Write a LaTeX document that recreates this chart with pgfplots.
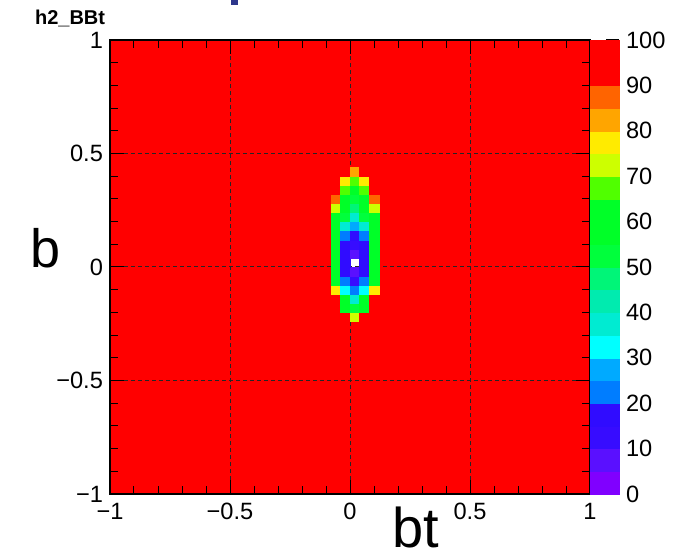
\documentclass[border=0pt]{standalone}
\usepackage{pgfplots}
\pgfplotsset{compat=1.18}
\usepackage{fontspec}
\setmainfont{Liberation Sans}

% 20-level rainbow palette: one colour for each step of 5 between 0 and 100
\pgfplotsset{
  rootpalette/.style={
    colormap={rootpal}{
      rgb255=(128,0,255) rgb255=(90,16,255) rgb255=(55,12,255) rgb255=(48,12,255)
      rgb255=(0,125,255) rgb255=(0,170,255) rgb255=(0,255,255) rgb255=(0,235,210)
      rgb255=(0,235,175) rgb255=(0,245,120) rgb255=(0,255,60) rgb255=(0,255,40)
      rgb255=(0,255,40) rgb255=(80,255,0) rgb255=(205,255,0) rgb255=(255,235,0)
      rgb255=(255,165,0) rgb255=(255,100,0) rgb255=(255,0,0) rgb255=(255,0,0)
    },
    colormap access=piecewise constant,
    point meta min=0, point meta max=100,
  },
  tickfont/.style={font=\fontsize{11.8}{14}\selectfont},
  % one filled box per bin, coloured from the bin content
  bins/.style={
    scatter, only marks, mark=square*, point meta=explicit,
    scatter/use mapped color={draw=mapped color, fill=mapped color},
  },
}

% bins of h2_BBt that differ from 100 (bin width 0.04)
\pgfplotstableread{
x     y      c
-0.06 -0.22 100
-0.02 -0.22 100
0.02  -0.22 72
0.06  -0.22 100
0.10  -0.22 100
-0.06 -0.18 100
-0.02 -0.18 62
0.02  -0.18 52
0.06  -0.18 62
0.10  -0.18 100
-0.06 -0.14 100
-0.02 -0.14 57
0.02  -0.14 37
0.06  -0.14 57
0.10  -0.14 100
-0.06 -0.10 77
-0.02 -0.10 32
0.02  -0.10 22
0.06  -0.10 32
0.10  -0.10 77
-0.06 -0.06 57
-0.02 -0.06 22
0.02  -0.06 14
0.06  -0.06 22
0.10  -0.06 57
-0.06 -0.02 56
-0.02 -0.02 17
0.02  -0.02 7
0.06  -0.02 17
0.10  -0.02 56
-0.06 0.02  55
-0.02 0.02  16
0.06  0.02  16
0.10  0.02  55
-0.06 0.06  56
-0.02 0.06  16
0.02  0.06  7
0.06  0.06  16
0.10  0.06  56
-0.06 0.10  56
-0.02 0.10  17
0.02  0.10  12
0.06  0.10  17
0.10  0.10  56
-0.06 0.14  57
-0.02 0.14  22
0.02  0.14  17
0.06  0.14  22
0.10  0.14  57
-0.06 0.18  58
-0.02 0.18  37
0.02  0.18  27
0.06  0.18  37
0.10  0.18  58
-0.06 0.22  62
-0.02 0.22  52
0.02  0.22  37
0.06  0.22  52
0.10  0.22  62
-0.06 0.26  72
-0.02 0.26  60
0.02  0.26  47
0.06  0.26  60
0.10  0.26  72
-0.06 0.30  87
-0.02 0.30  62
0.02  0.30  54
0.06  0.30  62
0.10  0.30  87
-0.06 0.34  100
-0.02 0.34  68
0.02  0.34  62
0.06  0.34  68
0.10  0.34  100
-0.06 0.38  100
-0.02 0.38  77
0.02  0.38  68
0.06  0.38  77
0.10  0.38  100
-0.06 0.42  100
-0.02 0.42  100
0.02  0.42  83
0.06  0.42  100
0.10  0.42  100
}\cells

% palette strip: one box per level
\pgfplotstableread{
x  y     c
0  2.5   2.5
0  7.5   7.5
0  12.5  12.5
0  17.5  17.5
0  22.5  22.5
0  27.5  27.5
0  32.5  32.5
0  37.5  37.5
0  42.5  42.5
0  47.5  47.5
0  52.5  52.5
0  57.5  57.5
0  62.5  62.5
0  67.5  67.5
0  72.5  72.5
0  77.5  77.5
0  82.5  82.5
0  87.5  87.5
0  92.5  92.5
0  97.5  97.5
}\palette

\begin{document}
\begin{tikzpicture}
\path[use as bounding box] (-55pt,-31pt) rectangle (284.5pt,247pt);

\begin{axis}[
  name=main, at={(0,0)}, anchor=south west,
  scale only axis, width=240pt, height=227pt,
  rootpalette,
  xmin=-1, xmax=1, ymin=-1, ymax=1,
  axis on top,
  xtick={-1,-0.5,0,0.5,1}, ytick={-1,-0.5,0,0.5,1},
  xticklabels={−1,−0.5,0,0.5,1},
  yticklabels={−1,−0.5,0,0.5,1},
  minor tick num=4,
  tick align=inside,
  xtick pos=both, ytick pos=both,
  xticklabel pos=lower, yticklabel pos=left,
  major tick length=7pt, minor tick length=3.8pt,
  tick style={black, line width=0.5pt},
  ticklabel style={tickfont},
  xticklabel style={yshift=-1pt},
  grid=major,
  major grid style={black!85, dash pattern=on 2pt off 1.5pt, line width=0.5pt},
  axis line style={black, line width=0.6pt},
]
  % histogram body, all bins at 100
  \addplot[fill={rgb,255:red,255;green,0;blue,0}, draw=none]
    coordinates {(-1,-1) (1,-1) (1,1) (-1,1) (-1,-1)};
  % bins below 100; the empty bin at (0.02,0.02) is left white
  \addplot[fill=white, draw=none]
    coordinates {(0,0) (0.04,0) (0.04,0.04) (0,0.04) (0,0)};
  \addplot[bins, mark size=2.27pt, mark options={xscale=1.0573, line width=0.25pt}]
    table[x=x, y=y, meta=c] {\cells};
\end{axis}

\begin{axis}[
  at={([xshift=1pt]main.south east)}, anchor=south west,
  scale only axis, width=14.5pt, height=227pt,
  rootpalette,
  xmin=-0.5, xmax=0.5, ymin=0, ymax=100,
  axis on top,
  separate axis lines,
  axis x line=none,
  axis y line*=right,
  xtick=\empty,
  ytick={0,10,...,100},
  tick align=inside,
  major tick length=6.5pt,
  tick style={black, line width=0.6pt},
  ticklabel style={tickfont},
  /pgf/number format/assume math mode=true,
  axis line style={black!45, line width=0.5pt},
  clip=true,
]
  \addplot[bins, mark size=5.675pt, mark options={xscale=1.2775, line width=0.25pt}]
    table[x=x, y=y, meta=c] {\palette};
\end{axis}

\node[anchor=base west, font=\fontsize{10}{12}\selectfont\bfseries]
  at ([xshift=-41pt,yshift=234.5pt]main.south west) {h2\_BBt};
\node[anchor=base, font=\fontsize{28}{32}\selectfont]
  at ([xshift=153pt,yshift=-27pt]main.south west) {bt};
\node[anchor=base, font=\fontsize{27}{32}\selectfont]
  at ([xshift=-32pt,yshift=113pt]main.south west) {b};
\fill[fill={rgb,255:red,45;green,55;blue,140}] (60.5pt,244.5pt) rectangle (64pt,248pt);
\end{tikzpicture}
\end{document}
